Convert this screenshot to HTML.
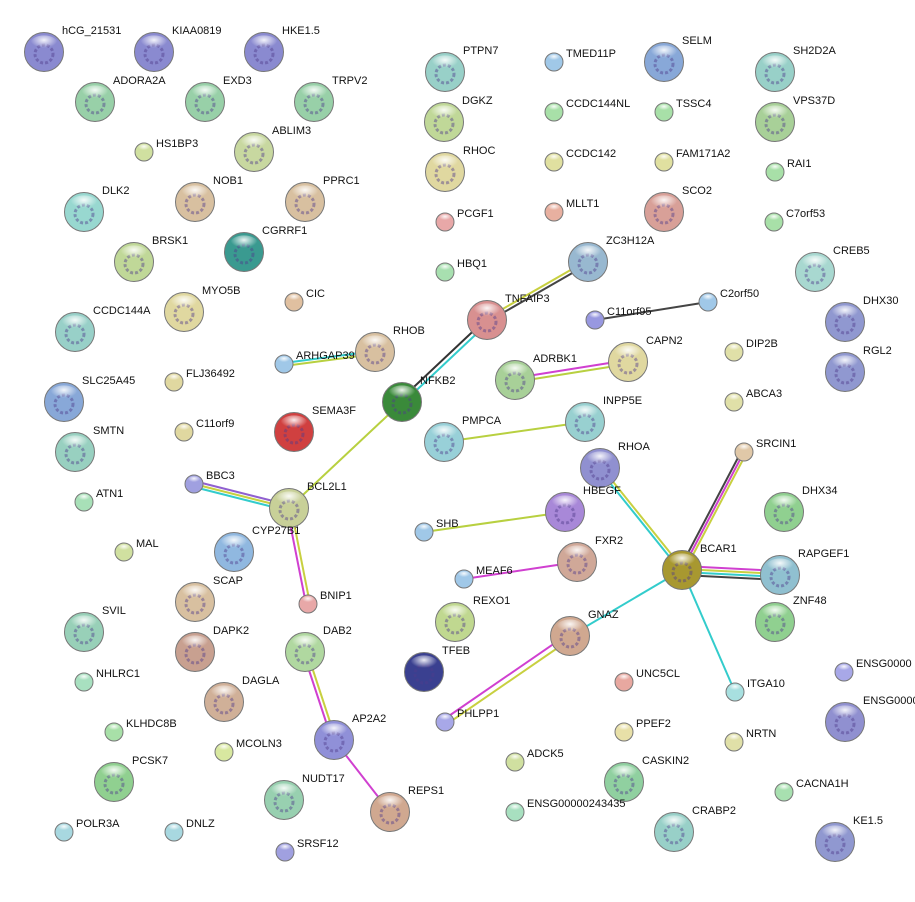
<!DOCTYPE html>
<html><head><meta charset="utf-8"><style>
html,body{margin:0;padding:0;background:#fff;}
svg text{font-family:"Liberation Sans",Arial,sans-serif;font-size:11px;fill:#111;}
</style></head><body>
<svg width="915" height="897" viewBox="0 0 915 897" xmlns="http://www.w3.org/2000/svg">
<defs>
<radialGradient id="hl" cx="50%" cy="30%" r="50%">
<stop offset="0" stop-color="#fff" stop-opacity="0.9"/><stop offset="1" stop-color="#fff" stop-opacity="0"/>
</radialGradient>
</defs>
<g stroke-width="2" fill="none">
<line x1="487" y1="318" x2="588" y2="260" stroke="#c8d040"/><line x1="487" y1="322" x2="588" y2="264" stroke="#444"/>
<line x1="485" y1="320" x2="400" y2="400" stroke="#333"/><line x1="489" y1="322" x2="404" y2="402" stroke="#3cc"/>
<line x1="595" y1="320" x2="708" y2="302" stroke="#444"/>
<line x1="284" y1="363" x2="375" y2="351" stroke="#3cc"/><line x1="284" y1="366" x2="375" y2="354" stroke="#b8d040"/>
<line x1="515" y1="378" x2="628" y2="360" stroke="#d040d0"/><line x1="515" y1="382" x2="628" y2="364" stroke="#b8d040"/>
<line x1="402" y1="402" x2="289" y2="508" stroke="#b8d040"/>
<line x1="444" y1="442" x2="585" y2="422" stroke="#b8d040"/>
<line x1="194" y1="481" x2="289" y2="505" stroke="#9060d0"/><line x1="194" y1="484" x2="289" y2="508" stroke="#c8d040"/><line x1="194" y1="487" x2="289" y2="511" stroke="#3cc"/>
<line x1="287" y1="508" x2="306" y2="604" stroke="#d040d0"/><line x1="291" y1="508" x2="310" y2="604" stroke="#c8d040"/>
<line x1="424" y1="532" x2="565" y2="512" stroke="#b8d040"/>
<line x1="464" y1="579" x2="577" y2="562" stroke="#d040d0"/>
<line x1="598" y1="468" x2="680" y2="570" stroke="#3cc"/><line x1="602" y1="468" x2="684" y2="570" stroke="#c8d040"/>
<line x1="741" y1="452" x2="679" y2="570" stroke="#444"/><line x1="744" y1="452" x2="682" y2="570" stroke="#d040d0"/><line x1="747" y1="452" x2="685" y2="570" stroke="#c8d040"/>
<line x1="682" y1="566" x2="780" y2="571" stroke="#d040d0"/><line x1="682" y1="569" x2="780" y2="574" stroke="#c8d040"/><line x1="682" y1="572" x2="780" y2="577" stroke="#3cc"/><line x1="682" y1="575" x2="780" y2="580" stroke="#444"/>
<line x1="682" y1="570" x2="570" y2="636" stroke="#3cc"/>
<line x1="682" y1="570" x2="735" y2="692" stroke="#3cc"/>
<line x1="568" y1="634" x2="443" y2="720" stroke="#d040d0"/><line x1="572" y1="638" x2="447" y2="724" stroke="#c8d040"/>
<line x1="303" y1="652" x2="332" y2="740" stroke="#d040d0"/><line x1="307" y1="652" x2="336" y2="740" stroke="#c8d040"/>
<line x1="334" y1="740" x2="390" y2="812" stroke="#d040d0"/>
</g>
<g id="nodes"></g>
<g id="labels"></g>
<script>
var N=[
["hCG_21531",44,52,1,"#8a8ad0"],["KIAA0819",154,52,1,"#8a8ad0"],["HKE1.5",264,52,1,"#8a8ad0"],
["ADORA2A",95,102,1,"#98d0a8"],["EXD3",205,102,1,"#98d0a8"],["TRPV2",314,102,1,"#98d0a8"],
["ABLIM3",254,152,1,"#c8d8a0"],["DLK2",84,212,1,"#98d8d0"],["NOB1",195,202,1,"#d8c0a0"],["PPRC1",305,202,1,"#d8c0a0"],
["CGRRF1",244,252,1,"#3a9a90"],["BRSK1",134,262,1,"#c0d898"],["MYO5B",184,312,1,"#e0d8a0"],["CCDC144A",75,332,1,"#98d0c8"],
["RHOB",375,352,1,"#d8c0a0"],["SLC25A45",64,402,1,"#88a8d8"],["NFKB2",402,402,1,"#3a8a3a"],["SEMA3F",294,432,1,"#d04040"],
["SMTN",75,452,1,"#98d0c0"],["BCL2L1",289,508,1,"#c8d098"],["CYP27B1",234,552,1,"#90b8e0"],["SCAP",195,602,1,"#d8c0a0"],
["DAPK2",195,652,1,"#c8a090"],["DAB2",305,652,1,"#b0d8a0"],["SVIL",84,632,1,"#98d0b8"],["DAGLA",224,702,1,"#d0b098"],
["AP2A2",334,740,1,"#9090d8"],["PCSK7",114,782,1,"#90d090"],["NUDT17",284,800,1,"#98d0b0"],["REPS1",390,812,1,"#d0a890"],
["PTPN7",445,72,1,"#98d0c8"],["DGKZ",444,122,1,"#c0d898"],["RHOC",445,172,1,"#e0d8a0"],["TNFAIP3",487,320,1,"#d89090"],
["ZC3H12A",588,262,1,"#98b8d0"],["ADRBK1",515,380,1,"#a8d098"],["CAPN2",628,362,1,"#e0d8a0"],["PMPCA",444,442,1,"#98d0d8"],
["INPP5E",585,422,1,"#98d0d0"],["RHOA",600,468,1,"#9090d0"],["HBEGF",565,512,1,"#a888d8"],["FXR2",577,562,1,"#d0a898"],
["REXO1",455,622,1,"#c0d890"],["GNAZ",570,636,1,"#d0a890"],["TFEB",424,672,1,"#3a4090"],["BCAR1",682,570,1,"#a89830"],
["RAPGEF1",780,575,1,"#90c0d0"],["ZNF48",775,622,1,"#90d090"],["DHX34",784,512,1,"#90d090"],["SELM",664,62,1,"#88a8d8"],
["SH2D2A",775,72,1,"#98d0c8"],["VPS37D",775,122,1,"#a8d098"],["SCO2",664,212,1,"#d8a098"],["CREB5",815,272,1,"#a8d8d0"],
["DHX30",845,322,1,"#9098d0"],["RGL2",845,372,1,"#9098d0"],["CASKIN2",624,782,1,"#90d0a0"],["CRABP2",674,832,1,"#98d0c8"],
["KE1.5",835,842,1,"#9098d0"],["ENSG0000",845,722,1,"#9090d0"],
["HS1BP3",144,152,0,"#d0e0a0"],["CIC",294,302,0,"#e0c0a0"],["ARHGAP39",284,364,0,"#a0c8e8"],["FLJ36492",174,382,0,"#e0d8a0"],
["C11orf9",184,432,0,"#e0d8a0"],["BBC3",194,484,0,"#a0a0e0"],["ATN1",84,502,0,"#a8e0b8"],["MAL",124,552,0,"#d0e0a0"],
["BNIP1",308,604,0,"#e8a8a8"],["NHLRC1",84,682,0,"#a8e0c0"],["KLHDC8B",114,732,0,"#a8e0a8"],["MCOLN3",224,752,0,"#d8e8a0"],
["POLR3A",64,832,0,"#a8d8e0"],["DNLZ",174,832,0,"#a8d8e0"],["SRSF12",285,852,0,"#a0a0e0"],["TMED11P",554,62,0,"#a0c8e8"],
["CCDC144NL",554,112,0,"#a8e0a8"],["TSSC4",664,112,0,"#a8e0a8"],["CCDC142",554,162,0,"#e0e0a0"],["FAM171A2",664,162,0,"#e0e0a0"],
["RAI1",775,172,0,"#a8e0a8"],["PCGF1",445,222,0,"#e8a8a8"],["MLLT1",554,212,0,"#e8b0a0"],["C7orf53",774,222,0,"#a8e0a8"],
["HBQ1",445,272,0,"#a8e0b0"],["C2orf50",708,302,0,"#a0c8e8"],["C11orf95",595,320,0,"#9898e0"],["DIP2B",734,352,0,"#e0e0a8"],
["ABCA3",734,402,0,"#e0e0a8"],["SRCIN1",744,452,0,"#e0c8a8"],["SHB",424,532,0,"#a0c8e8"],["MEAF6",464,579,0,"#a0c8e8"],
["UNC5CL",624,682,0,"#e8a8a0"],["ITGA10",735,692,0,"#a8e0e0"],["PHLPP1",445,722,0,"#a8a8e8"],["PPEF2",624,732,0,"#e8e0a8"],
["NRTN",734,742,0,"#e0e0a8"],["ADCK5",515,762,0,"#d0e0a0"],["ENSG00000243435",515,812,0,"#a8e0c0"],["CACNA1H",784,792,0,"#a8e0b0"],
["ENSG0000",844,672,0,"#a8a8e8"]];
var ns="http://www.w3.org/2000/svg",g=document.getElementById("nodes"),L=document.getElementById("labels");
N.forEach(function(n){var r=n[3]?19.5:9;
var c=document.createElementNS(ns,"circle");c.setAttribute("cx",n[1]);c.setAttribute("cy",n[2]);c.setAttribute("r",r);
c.setAttribute("fill",n[4]);c.setAttribute("stroke","#777");c.setAttribute("stroke-width","1");g.appendChild(c);
if(n[3]){var d=document.createElementNS(ns,"circle");d.setAttribute("cx",n[1]);d.setAttribute("cy",n[2]+2);d.setAttribute("r",9);
d.setAttribute("fill","none");d.setAttribute("stroke","rgba(80,60,140,0.45)");d.setAttribute("stroke-width","3");d.setAttribute("stroke-dasharray","3 2");g.appendChild(d);}
var e=document.createElementNS(ns,"ellipse");e.setAttribute("cx",n[1]);e.setAttribute("cy",n[2]-r*0.45);e.setAttribute("rx",r*0.7);e.setAttribute("ry",r*0.4);
e.setAttribute("fill","url(#hl)");g.appendChild(e);
var t=document.createElementNS(ns,"text");t.setAttribute("x",n[1]+(n[3]?18:12));t.setAttribute("y",n[2]-(n[3]?18:5));t.textContent=n[0];L.appendChild(t);});
</script>
</svg>
</body></html>
